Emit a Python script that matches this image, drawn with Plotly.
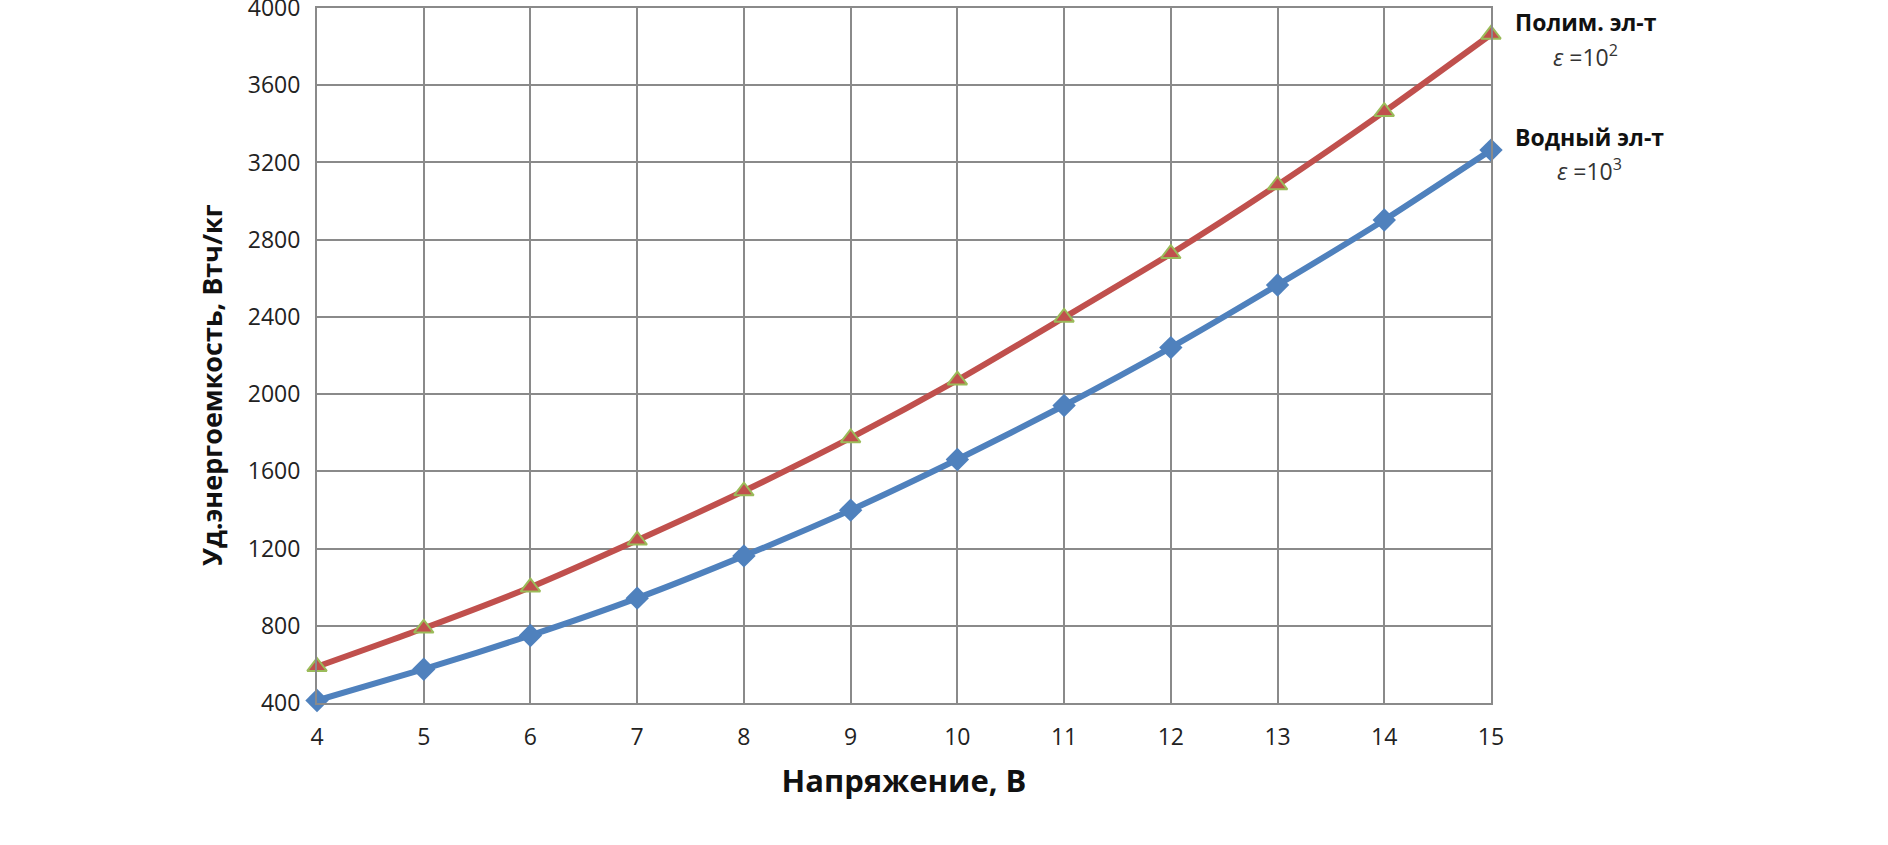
import plotly.graph_objects as go

voltage = [4, 5, 6, 7, 8, 9, 10, 11, 12, 13, 14, 15]
polymer = [588, 787, 1000, 1243, 1498, 1773, 2072, 2397, 2727, 3083, 3463, 3863]
water = [413, 575, 750, 943, 1162, 1399, 1661, 1941, 2241, 2565, 2902, 3264]
y_ticks = [400, 800, 1200, 1600, 2000, 2400, 2800, 3200, 3600, 4000]

FONT = "Open Sans"
GRID = "#8a8a8a"

fig = go.Figure()
fig.add_trace(go.Scatter(
    x=voltage, y=water, mode="lines+markers",
    line=dict(color="#4F81BD", width=6, shape="spline", smoothing=0.6),
    marker=dict(symbol="diamond", size=18, color="#4F81BD"),
    cliponaxis=False, showlegend=False))
fig.add_trace(go.Scatter(
    x=voltage, y=polymer, mode="lines+markers",
    line=dict(color="#C0504D", width=6, shape="spline", smoothing=0.6),
    marker=dict(symbol="triangle-up", size=17, color="#C0504D",
                line=dict(color="#9BBB59", width=2)),
    cliponaxis=False, showlegend=False))

pl, pr, pt, pb = 317, 1491, 8, 703
fig.update_layout(
    width=1888, height=845,
    margin=dict(l=pl, r=1888 - pr, t=pt, b=845 - pb),
    paper_bgcolor="white", plot_bgcolor="white",
    font=dict(family=FONT, color="#222222"),
    xaxis=dict(range=[4, 15], tickvals=voltage, showgrid=True, gridcolor=GRID, gridwidth=2,
               showline=True, linecolor=GRID, linewidth=2, mirror=True, zeroline=False,
               automargin=False, ticklabeloverflow="allow",
               ticks="", tickfont=dict(size=23, family=FONT), ticklabelstandoff=12,
               title=dict(text="<b>Напряжение, В</b>", font=dict(size=31, family=FONT, color="#111111"), standoff=20)),
    yaxis=dict(range=[400, 4000], tickvals=y_ticks, showgrid=True, gridcolor=GRID, gridwidth=2,
               showline=True, linecolor=GRID, linewidth=2, mirror=True, zeroline=False,
               automargin=False, ticklabeloverflow="allow",
               ticks="", tickfont=dict(size=23, family=FONT), ticklabelstandoff=10),
)

def to_paper(px, py):
    return (px - pl) / (pr - pl), (pb - py) / (pb - pt)

# y-axis title (placed as rotated annotation to match reference position)
yx, yy = to_paper(211, 385)
fig.add_annotation(x=yx, y=yy, xref="paper", yref="paper", xanchor="center", yanchor="middle",
                   text="<b>Уд.энергоемкость, Втч/кг</b>", textangle=-90, showarrow=False,
                   font=dict(size=27, family=FONT, color="#111111"))

ann_font_b = dict(size=23, family=FONT, color="#111111")
ann_font = dict(size=23, family=FONT, color="#333333")
ann_specs = [
    (1586, 22, "<b>Полим. эл-т</b>", ann_font_b),
    (1586, 56, "<i>ε</i> =10<sup>2</sup>", ann_font),
    (1590, 137, "<b>Водный эл-т</b>", ann_font_b),
    (1590, 170, "<i>ε</i> =10<sup>3</sup>", ann_font),
]
for px, py, txt, fnt in ann_specs:
    ax, ay = to_paper(px, py)
    fig.add_annotation(x=ax, y=ay, xref="paper", yref="paper",
                       xanchor="center", yanchor="middle", text=txt, showarrow=False, font=fnt)

fig.write_html("out.html", config={"displayModeBar": False},
               post_script="document.body.style.margin='0px';")
